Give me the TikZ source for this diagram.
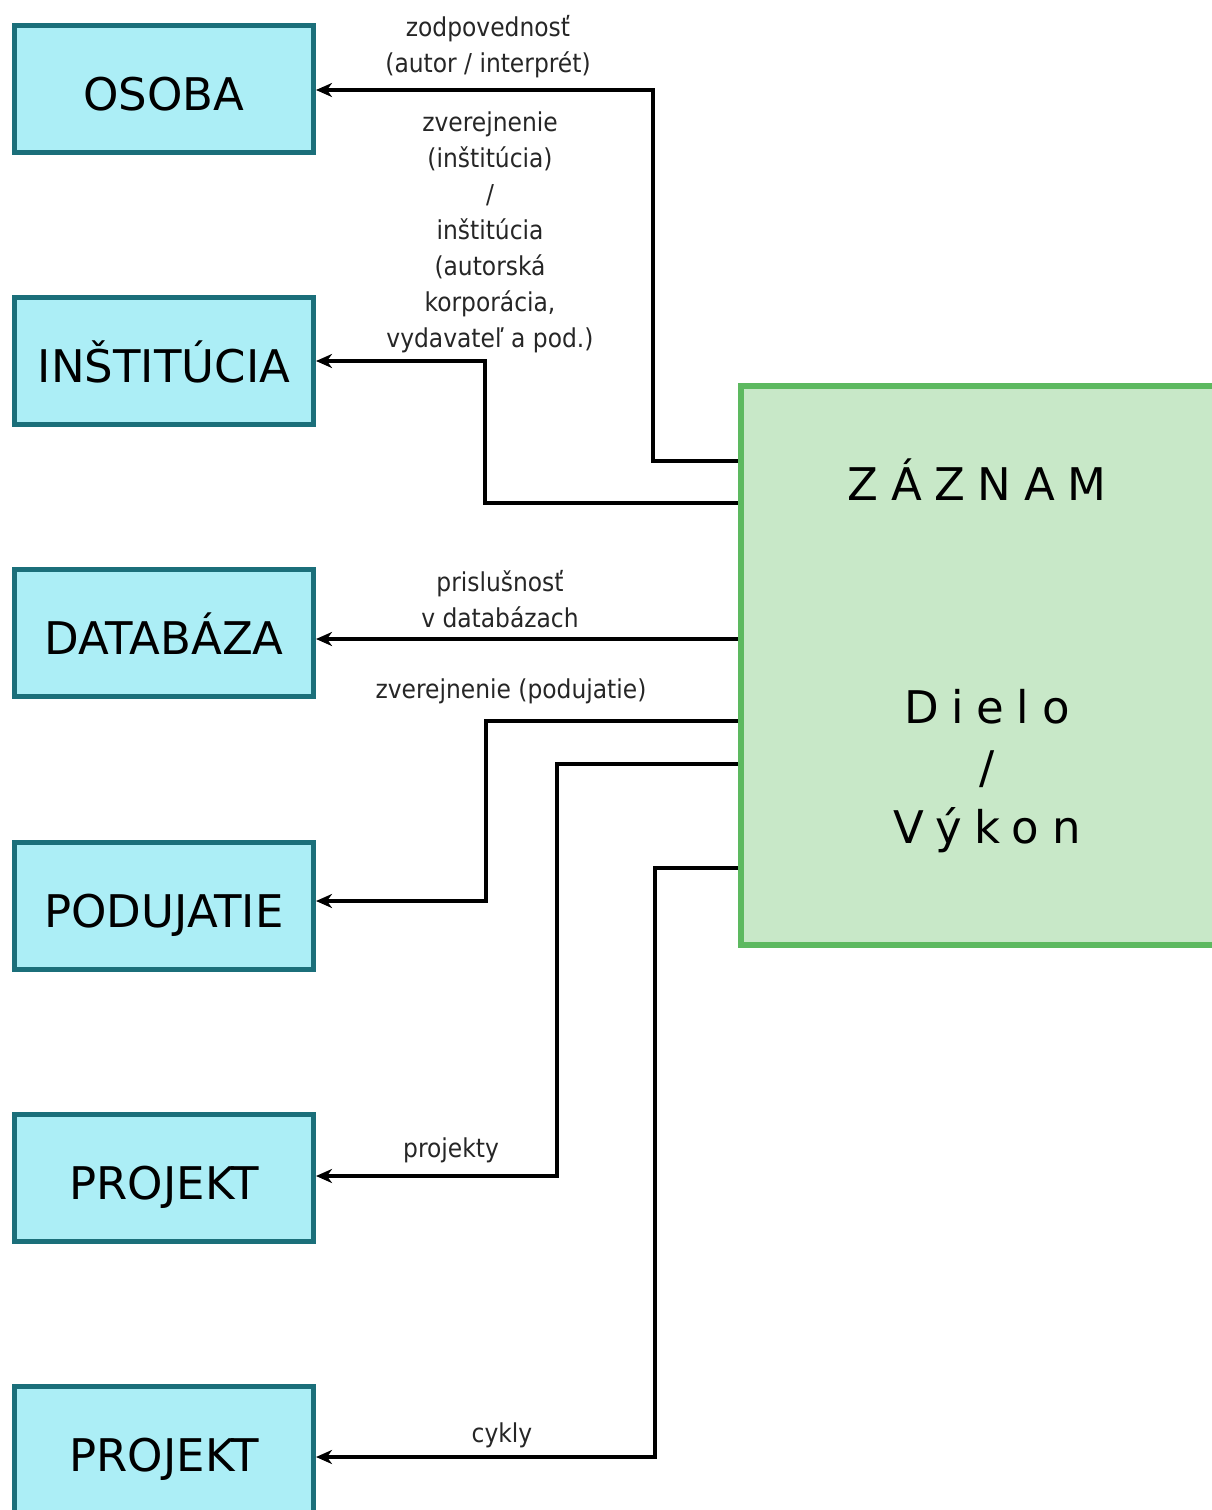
\documentclass[tikz,border=0pt]{standalone}
\usepackage{fontspec}
\setmainfont{DejaVu Sans}
\newfontfamily\condfont{DejaVu Sans Condensed}
\newfontfamily\spacedfont[LetterSpace=28]{DejaVu Sans}
\usetikzlibrary{arrows.meta}
\definecolor{boxline}{HTML}{1B6F7A}
\definecolor{boxfill}{HTML}{ACEEF6}
\definecolor{recline}{HTML}{5DB960}
\definecolor{recfill}{HTML}{C8E8C8}
\tikzset{
	entity/.style={draw=boxline, fill=boxfill, line width=2.5pt, minimum width=149.5pt, minimum height=63.5pt, inner sep=0pt, font=\fontsize{22.5}{27}\selectfont, text height=21pt, text depth=0pt},
	record/.style={draw=recline, fill=recfill, line width=3pt, minimum width=249.5pt, minimum height=279.5pt, inner sep=0pt},
	bigtext/.style={font=\spacedfont\fontsize{22.5}{30}\selectfont, align=center, anchor=base, inner sep=0pt},
	lbl/.style={font=\condfont\fontsize{13}{18}\selectfont, align=center, anchor=base, inner sep=0pt, text=black!85},
	link/.style={line width=2.4pt, -{Stealth[length=8pt,width=7pt,inset=2.5pt]}}
}
\begin{document}
\begin{tikzpicture}[x=0.5pt,y=-0.5pt]
				\useasboundingbox (0,0) rectangle (1211,1510);
				
				% entities on the left
				\node[entity] (osoba) at (164,89) {OSOBA};
				\node[entity] (institucia) at (164,361) {INŠTITÚCIA};
				\node[entity] (databaza) at (164,633) {DATABÁZA};
				\node[entity] (podujatie) at (164,906) {PODUJATIE};
				\node[entity] (projekt) at (164,1178) {PROJEKT};
				\node[entity] (cyklus) at (164,1450) {PROJEKT};
				
				% the record
				\node[record] (zaznam) at (990.5,665.5) {};
				\node[bigtext] (zaznamtitle) at (977,500) {ZÁZNAM};
				\node[bigtext] (dielo) at (987,843) {Dielo\\/\\Výkon};
				
				% links
				\draw[link] (zaznam.west |- 0,461) -- (653,461) |- (osoba.east |- 0,90);
				\draw[link] (zaznam.west |- 0,503) -- (485,503) |- (institucia.east);
				\draw[link] (zaznam.west |- 0,639) -- (databaza.east |- 0,639);
				\draw[link] (zaznam.west |- 0,721) -- (486,721) |- (podujatie.east |- 0,901);
				\draw[link] (zaznam.west |- 0,764) -- (557,764) |- (projekt.east |- 0,1176);
				\draw[link] (zaznam.west |- 0,868) -- (655,868) |- (cyklus.east |- 0,1457);
				
				% labels
				\node[lbl] (lzodp) at (488,72) {zodpovednosť\\(autor / interprét)};
				\node[lbl] (lzver) at (490,347) {zverejnenie\\(inštitúcia)\\/\\inštitúcia\\(autorská\\korporácia,\\vydavateľ a pod.)};
				\node[lbl] (lprisl) at (500,627) {prislušnosť\\v databázach};
				\node[lbl] (lpod) at (511,698) {zverejnenie (podujatie)};
				\node[lbl] (lproj) at (451,1157) {projekty};
				\node[lbl] (lcykly) at (502,1442) {cykly};
			\end{tikzpicture}
\end{document}
